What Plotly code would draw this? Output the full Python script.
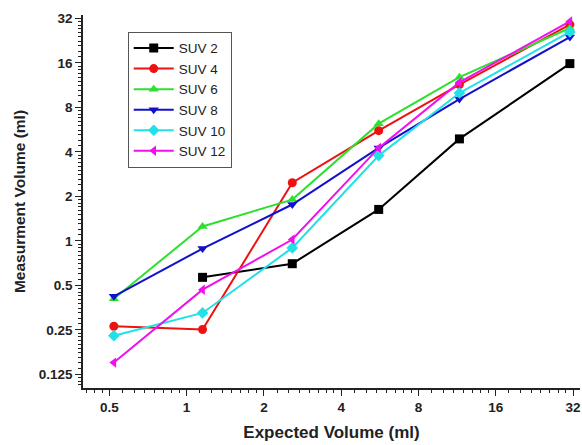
import plotly.graph_objects as go

# Expected volume (ml) for each measurement step
expected = [0.521, 1.154, 2.58, 5.60, 11.55, 31.1]

# Measured volume (ml) per SUV setting
suv2 = [None, 0.566, 0.70, 1.63, 4.89, 15.8]
suv4 = [0.264, 0.251, 2.47, 5.56, 11.4, 29.0]
suv6 = [0.406, 1.25, 1.90, 6.2, 12.8, 27.5]
suv8 = [0.421, 0.886, 1.76, 4.25, 9.1, 23.9]
suv10 = [0.228, 0.325, 0.895, 3.77, 10.0, 25.9]
suv12 = [0.150, 0.467, 1.02, 4.25, 11.8, 30.5]

series_names = ["SUV 2", "SUV 4", "SUV 6", "SUV 8", "SUV 10", "SUV 12"]
series_values = [suv2, suv4, suv6, suv8, suv10, suv12]
series_colors = ["#000000", "#ee1111", "#2ee02e", "#1111cc", "#22e0e8", "#ee11ee"]
series_symbols = ["square", "circle", "triangle-up", "triangle-down", "diamond", "triangle-left"]

x_ticks = [0.5, 1, 2, 4, 8, 16, 32]
x_tick_text = ["0.5", "1", "2", "4", "8", "16", "32"]
y_ticks = [0.125, 0.25, 0.5, 1, 2, 4, 8, 16, 32]
y_tick_text = ["0.125", "0.25", "0.5", "1", "2", "4", "8", "16", "32"]

FONT = "Arial, 'Liberation Sans', sans-serif"

fig = go.Figure()
for name, vals, col, sym in zip(series_names, series_values, series_colors, series_symbols):
    xs = [x for x, v in zip(expected, vals) if v is not None]
    ys = [v for v in vals if v is not None]
    fig.add_trace(go.Scatter(
        x=xs, y=ys, name=name, mode="lines+markers",
        line=dict(color=col, width=2),
        marker=dict(symbol=sym, size=9, color=col, line=dict(width=0)),
    ))

# Linear subdivisions inside each octave for the minor ticks
x_minor = [b * (1 + i / 8) for b in [0.25, 0.5, 1, 2, 4, 8, 16, 32] for i in range(1, 8)]
y_minor = [b * (1 + i / 10) for b in [0.0625, 0.125, 0.25, 0.5, 1, 2, 4, 8, 16, 32] for i in range(1, 10)]

axis_common = dict(
    type="log",
    showgrid=False,
    zeroline=False,
    showline=True,
    linecolor="#222222",
    linewidth=1.6,
    ticks="outside",
    ticklen=6,
    tickwidth=1.3,
    tickcolor="#222222",
    tickmode="array",
    tickfont=dict(family=FONT, size=13.5, color="#222222", weight="bold"),
    mirror=False,
)

fig.update_xaxes(
    **axis_common,
    range=[-0.4034, 1.5322],
    tickvals=x_ticks,
    ticktext=x_tick_text,
    minor=dict(tickmode="array", tickvals=x_minor, ticklen=3, tickwidth=1, tickcolor="#222222", ticks="outside", showgrid=False),
    title=dict(text="Expected Volume (ml)", font=dict(family=FONT, size=17, color="#222222", weight="bold"), standoff=12),
)
fig.update_yaxes(
    **axis_common,
    range=[-0.9958, 1.5275],
    tickvals=y_ticks,
    ticktext=y_tick_text,
    minor=dict(tickmode="array", tickvals=y_minor, ticklen=3, tickwidth=1, tickcolor="#222222", ticks="outside", showgrid=False),
    title=dict(text="Measurment Volume (ml)", font=dict(family=FONT, size=15.5, color="#222222", weight="bold"), standoff=9),
)

fig.update_layout(
    width=582, height=445,
    margin=dict(l=83, r=2, t=15, b=57),
    paper_bgcolor="white",
    plot_bgcolor="white",
    font=dict(family=FONT, color="#222222"),
    legend=dict(
        x=0.09, y=0.955, xanchor="left", yanchor="top",
        bgcolor="white", bordercolor="#555555", borderwidth=1,
        font=dict(family=FONT, size=13.5, color="#222222"),
        tracegroupgap=0, itemwidth=40,
    ),
)

fig.write_html("out.html")
